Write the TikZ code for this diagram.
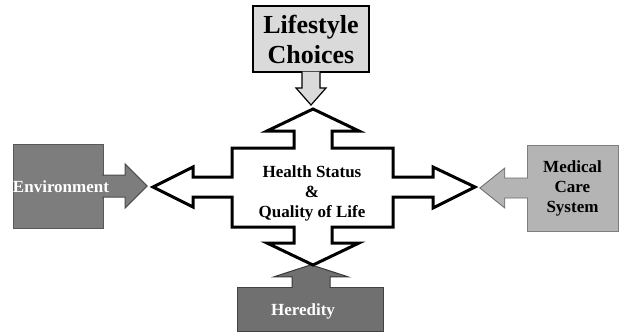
\documentclass[tikz,border=0pt]{standalone}
\usepackage{fontspec}
\setmainfont{Liberation Serif}
\definecolor{lifegray}{RGB}{218,218,218}
\definecolor{envgray}{RGB}{125,125,125}
\definecolor{medgray}{RGB}{180,180,180}
\definecolor{heredgray}{RGB}{112,112,112}
\usepackage{tikz}
\usetikzlibrary{positioning,calc}

\begin{document}
\begin{tikzpicture}[x=1pt,y=-1pt,
    box/.style={inner sep=0pt,font=\fontsize{17}{20}\selectfont\bfseries,align=center},
    hubline/.style={line width=3pt,fill=white,line join=miter}]
    \useasboundingbox (0,0) rectangle (624,335);

    % Lifestyle
    \node[box,draw=black,line width=2pt,fill=lifegray,minimum width=116pt,minimum height=66pt,
          font=\fontsize{26}{30}\selectfont\bfseries] (life) at (311,39) {Lifestyle\\Choices};
    \draw[fill=lifegray,line width=1.2pt] ([xshift=-9pt,yshift=1.5pt]life.south) -- ++(0,16.5) -- ++(-6,0)
        -- ++(15,17) -- ++(15,-17) -- ++(-6,0) -- ++(0,-16.5);

    % Environment
    \node[box,draw=envgray!70!black,fill=envgray,minimum width=90pt,minimum height=84pt] (env) at (58,186) {};
    \draw[fill=envgray,draw=envgray!60!black,line width=1pt] ([xshift=-1pt,yshift=11pt]env.east) -- ++(23,0) -- ++(0,-11)
        -- ++(22,22) -- ++(-22,22) -- ++(0,-11) -- ++(-23,0);
    \node[box,text=white] (envtext) at (61,187) {Environment};

    % Medical care
    \node[box,draw=medgray!70!black,fill=medgray,minimum width=91pt,minimum height=86pt] (med) at (572.5,188)
        {Medical\\Care\\System};
    \draw[fill=medgray,draw=medgray!60!black,line width=0.8pt] ([xshift=1pt,yshift=10pt]med.west) -- ++(-23,0) -- ++(0,-10)
        -- ++(-25,20) -- ++(25,20) -- ++(0,-10) -- ++(23,0);

    % Heredity
    \node[box,draw=heredgray!60!black,fill=heredgray,minimum width=146pt,minimum height=44pt] (her) at (310,309) {};
    \draw[fill=heredgray,draw=heredgray!50!black,line width=1pt] ([xshift=-18pt,yshift=-1pt]her.north) -- ++(0,-11) -- ++(-18,0)
        -- ++(37,-12) -- ++(37,12) -- ++(-18,0) -- ++(0,11);
    \node[box,text=white] (hertext) at (303,311) {Heredity};

    % Health status
    \coordinate (c) at (313,187);
    \draw[hubline] (c) ++(0,-78) -- ++(46,22) -- ++(-27,0) -- ++(0,17) -- ++(61,0) -- ++(0,29)
        -- ++(40,0) -- ++(0,-10) -- ++(42,20) -- ++(-42,21) -- ++(0,-11) -- ++(-40,0) -- ++(0,30)
        -- ++(-61,0) -- ++(0,16) -- ++(27,0) -- ++(-46,22) -- ++(-46,-22) -- ++(27,0) -- ++(0,-16)
        -- ++(-62,0) -- ++(0,-30) -- ++(-39,0) -- ++(0,10) -- ++(-40,-20) -- ++(40,-20) -- ++(0,10)
        -- ++(39,0) -- ++(0,-29) -- ++(62,0) -- ++(0,-17) -- ++(-27,0) -- cycle;
    \node[box] (hub) at (312,193) {Health Status\\\&\\Quality of Life};
\end{tikzpicture}
\end{document}
